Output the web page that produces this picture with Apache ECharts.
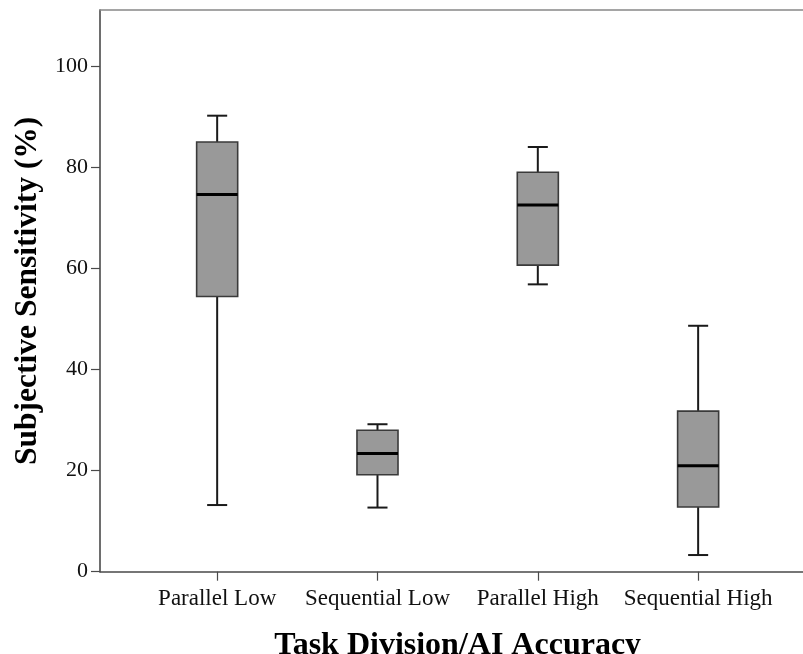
<!DOCTYPE html>
<html>
<head>
<meta charset="utf-8">
<script src="https://cdn.jsdelivr.net/npm/echarts@6/dist/echarts.min.js"></script>
<style>html,body{margin:0;padding:0;background:#fff}#c{width:803px;height:654px}</style>
</head>
<body>
<div id="c"></div>
<script>
var categories = ['Parallel Low', 'Sequential Low', 'Parallel High', 'Sequential High'];
var lowWhisker = [13.2, 12.7, 56.9, 3.3];
var q1 = [54.5, 19.2, 60.7, 12.8];
var median = [74.7, 23.4, 72.6, 21.0];
var q3 = [85.1, 28.0, 79.1, 31.8];
var highWhisker = [90.3, 29.2, 84.1, 48.7];
var yTicks = [0, 20, 40, 60, 80, 100];

var boxData = categories.map(function (c, i) {
  return [i, lowWhisker[i], q1[i], median[i], q3[i], highWhisker[i]];
});

var FONT = '"Liberation Serif", "Times New Roman", serif';
var chart = echarts.init(document.getElementById('c'), null, {renderer: 'canvas'});

function renderBox(params, api) {
  var idx = api.value(0);
  var pLow = api.coord([idx, api.value(1)]);
  var pQ1 = api.coord([idx, api.value(2)]);
  var pMed = api.coord([idx, api.value(3)]);
  var pQ3 = api.coord([idx, api.value(4)]);
  var pHigh = api.coord([idx, api.value(5)]);
  var band = api.size([1, 0])[0];
  var bw = band * 0.256;
  var cw = band * 0.125;
  var x = pMed[0];
  var wStyle = {stroke: '#1a1a1a', lineWidth: 2};
  return {
    type: 'group',
    children: [
      {type: 'line', shape: {x1: x, y1: pHigh[1], x2: x, y2: pQ3[1]}, style: wStyle},
      {type: 'line', shape: {x1: x, y1: pLow[1], x2: x, y2: pQ1[1]}, style: wStyle},
      {type: 'line', shape: {x1: x - cw / 2, y1: pHigh[1], x2: x + cw / 2, y2: pHigh[1]}, style: wStyle},
      {type: 'line', shape: {x1: x - cw / 2, y1: pLow[1], x2: x + cw / 2, y2: pLow[1]}, style: wStyle},
      {type: 'rect', shape: {x: x - bw / 2, y: pQ3[1], width: bw, height: pQ1[1] - pQ3[1]},
       style: {fill: '#999999', stroke: '#3a3a3a', lineWidth: 1.6}},
      {type: 'line', shape: {x1: x - bw / 2, y1: pMed[1], x2: x + bw / 2, y2: pMed[1]},
       style: {stroke: '#000000', lineWidth: 3}}
    ]
  };
}

var option = {
  animation: false,
  backgroundColor: '#ffffff',
  grid: [
    {left: 100, right: 0, top: 10, bottom: 82.3, containLabel: false, outerBoundsMode: 'none'},
    {left: 137, right: 24.7, top: 66.7, bottom: 82.3, containLabel: false, outerBoundsMode: 'none'}
  ],
  xAxis: [
    {type: 'value', gridIndex: 0, min: 0, max: 1, position: 'bottom',
     axisLine: {show: true, lineStyle: {color: '#4a4a4a', width: 1.6}},
     axisTick: {show: false}, axisLabel: {show: false}, splitLine: {show: false}},
    {type: 'value', gridIndex: 0, min: 0, max: 1, position: 'top',
     axisLine: {show: true, lineStyle: {color: '#888888', width: 1.6}},
     axisTick: {show: false}, axisLabel: {show: false}, splitLine: {show: false}},
    {type: 'category', gridIndex: 1, data: categories, boundaryGap: true,
     axisLine: {show: false},
     axisTick: {show: true, alignWithLabel: true, length: 9, inside: false,
                lineStyle: {color: '#4a4a4a', width: 1.2}},
     axisLabel: {show: true, interval: 0, margin: 16, fontFamily: FONT, fontSize: 23, color: '#111'},
     name: 'Task Division/AI Accuracy', nameLocation: 'middle', nameGap: 58,
     nameTextStyle: {fontFamily: FONT, fontSize: 32, fontWeight: 'bold', color: '#000'},
     splitLine: {show: false}}
  ],
  yAxis: [
    {type: 'value', gridIndex: 0, min: 0, max: 1,
     axisLine: {show: true, lineStyle: {color: '#4a4a4a', width: 1.6}},
     axisTick: {show: false}, axisLabel: {show: false}, splitLine: {show: false},
     name: 'Subjective Sensitivity (%)', nameLocation: 'middle', nameGap: 56,
     nameTextStyle: {fontFamily: FONT, fontSize: 31.5, fontWeight: 'bold', color: '#000'}},
    {type: 'value', gridIndex: 1, min: yTicks[0], max: yTicks[yTicks.length - 1], interval: 20,
     offset: 37,
     axisLine: {show: false},
     axisTick: {show: true, length: 9, lineStyle: {color: '#4a4a4a', width: 1.2}},
     axisLabel: {show: true, margin: 12, fontFamily: FONT, fontSize: 22, color: '#111'},
     splitLine: {show: false}}
  ],
  series: [
    {type: 'custom', xAxisIndex: 2, yAxisIndex: 1, data: boxData, renderItem: renderBox,
     encode: {x: 0, y: [1, 2, 3, 4, 5]}, silent: true}
  ]
};
chart.setOption(option);
</script>
</body>
</html>
